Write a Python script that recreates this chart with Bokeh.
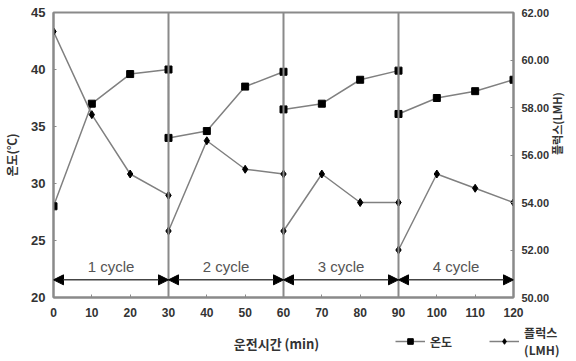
import math
from bokeh.plotting import figure
from bokeh.layouts import column
from bokeh.models import (Range1d, LinearAxis, FixedTicker, NumeralTickFormatter, Span,
                          Arrow, NormalHead, Legend, LegendItem, ColumnDataSource)
from bokeh.core.properties import value
from bokeh.embed import file_html
from bokeh.resources import INLINE

# ---- data ----
time_min = [0, 10, 20, 30, 30, 40, 50, 60, 60, 70, 80, 90, 90, 100, 110, 120]
temperature = [28.0, 37.0, 39.6, 40.0, 34.0, 34.6, 38.5, 39.8, 36.5, 37.0, 39.1, 39.9, 36.1, 37.5, 38.1, 39.1]
flux = [61.2, 57.7, 55.2, 54.3, 52.8, 56.6, 55.4, 55.2, 52.8, 55.2, 54.0, 54.0, 52.0, 55.2, 54.6, 54.0]
cycle_bounds = [0, 30, 60, 90, 120]
cycle_labels = ["1 cycle", "2 cycle", "3 cycle", "4 cycle"]
x_ticks = [0, 10, 20, 30, 40, 50, 60, 70, 80, 90, 100, 110, 120]
temp_ticks = [20, 25, 30, 35, 40, 45]
flux_ticks = [50, 52, 54, 56, 58, 60, 62]
x_title = "운전시간 (min)"
legend_labels = ["온도", "플럭스\n(LMH)"]

KR = "Noto Sans CJK KR"
LAT = "Liberation Sans"
AXIS_GRAY = "#8a8a8a"
LINE_GRAY = "#808080"

W = 576
MAIN_H = 322
FOOT_H = 361 - MAIN_H

p = figure(width=W, height=MAIN_H, title=None,
           x_range=Range1d(0, 120), y_range=Range1d(20, 45),
           output_backend="svg", toolbar_location=None,
           min_border_left=52, min_border_right=63, min_border_top=12, min_border_bottom=25)
p.extra_y_ranges = {"flux": Range1d(50, 62)}
p.xgrid.visible = False
p.ygrid.visible = False
p.outline_line_color = AXIS_GRAY
p.outline_line_width = 2

right_axis = LinearAxis(y_range_name="flux")
p.add_layout(right_axis, "right")

for ax in [p.xaxis[0], p.yaxis[0], right_axis]:
    ax.axis_line_color = AXIS_GRAY
    ax.axis_line_width = 2
    ax.major_tick_line_color = AXIS_GRAY
    ax.major_tick_in = 3
    ax.major_tick_out = 0
    ax.minor_tick_line_color = None
    ax.major_label_text_font = LAT
    ax.major_label_text_font_style = "bold"
    ax.major_label_text_color = "#333333"
    ax.axis_label_text_font = KR
    ax.axis_label_text_font_style = "bold"
    ax.axis_label_text_color = "#333333"

p.xaxis[0].ticker = FixedTicker(ticks=x_ticks)
p.xaxis[0].major_label_text_font_size = "12px"
p.xaxis[0].major_label_standoff = 10

p.yaxis[0].ticker = FixedTicker(ticks=temp_ticks)
p.yaxis[0].major_label_text_font_size = "13px"
p.yaxis[0].major_label_standoff = 8
p.yaxis[0].axis_label = "온도(℃)"
p.yaxis[0].axis_label_text_font_size = "12px"
p.yaxis[0].axis_label_standoff = 8

right_axis.ticker = FixedTicker(ticks=flux_ticks)
right_axis.formatter = NumeralTickFormatter(format="0.00")
right_axis.major_label_text_font_size = "11px"
right_axis.major_label_standoff = 8
right_axis.axis_label = "플럭스(LMH)"
right_axis.axis_label_text_font_size = "11px"
right_axis.axis_label_standoff = 5
right_axis.axis_label_orientation = math.pi / 2

# cycle dividers
for b in cycle_bounds[1:-1]:
    p.add_layout(Span(location=b, dimension="height", line_color=AXIS_GRAY, line_width=2))

# cycle arrows and labels
arrow_y = 21.55
for a, b in zip(cycle_bounds[:-1], cycle_bounds[1:]):
    p.add_layout(Arrow(start=NormalHead(size=10, fill_color="black", line_color="black"),
                       end=NormalHead(size=10, fill_color="black", line_color="black"),
                       x_start=a, y_start=arrow_y, x_end=b, y_end=arrow_y,
                       line_color="#444444", line_width=1.5))
centers = [(a + b) / 2 for a, b in zip(cycle_bounds[:-1], cycle_bounds[1:])]
p.text(x=centers, y=[22.75] * len(centers), text=cycle_labels,
       text_align="center", text_baseline="middle",
       text_font=value(LAT), text_font_size="15px", text_color="#555555")

src = ColumnDataSource(dict(t=time_min, temp=temperature, flux=flux))
t_line_kw = dict(line_color=LINE_GRAY, line_width=1.5)
t_pt_kw = dict(marker="square", size=7, color="black")
f_pt_kw = dict(marker="diamond", size=8, color="black")
p.line("t", "temp", source=src, **t_line_kw)
p.scatter("t", "temp", source=src, **t_pt_kw)
p.line("t", "flux", source=src, y_range_name="flux", **t_line_kw)
p.scatter("t", "flux", source=src, y_range_name="flux", **f_pt_kw)

# ---- footer: x-axis title and legend ----
foot = figure(width=W, height=FOOT_H, x_range=Range1d(0, W), y_range=Range1d(0, FOOT_H),
              x_axis_type=None, y_axis_type=None, title=None,
              output_backend="svg", toolbar_location=None,
              min_border=0, outline_line_color=None)
if "frame_align" in foot.properties():
    foot.frame_align = False
foot.xgrid.visible = False
foot.ygrid.visible = False
foot.text(x=[276], y=[18], text=[x_title], text_align="center", text_baseline="middle",
          text_font=value(KR), text_font_size="13px", text_font_style="bold", text_color="#333333")
# legend proxies (off-canvas, carry the series styles)
proxy = ColumnDataSource(dict(x=[-1000, -999], y=[-1000, -1000]))
lt = foot.line("x", "y", source=proxy, **t_line_kw)
st = foot.scatter("x", "y", source=proxy, **t_pt_kw)
lf = foot.line("x", "y", source=proxy, **t_line_kw)
sf = foot.scatter("x", "y", source=proxy, **f_pt_kw)
legend = Legend(items=[LegendItem(label=legend_labels[0], renderers=[lt, st]),
                       LegendItem(label=legend_labels[1], renderers=[lf, sf])],
                location=(395, 3), orientation="horizontal",
                glyph_width=30, glyph_height=14, label_standoff=5, spacing=37,
                padding=0, margin=0, border_line_color=None, background_fill_alpha=0,
                label_text_font=KR, label_text_font_size="12px", label_text_font_style="bold",
                label_text_baseline="top", label_text_color="#333333")
foot.add_layout(legend)

layout = column(p, foot, spacing=0)
open("out.html", "w").write(file_html(layout, INLINE))
